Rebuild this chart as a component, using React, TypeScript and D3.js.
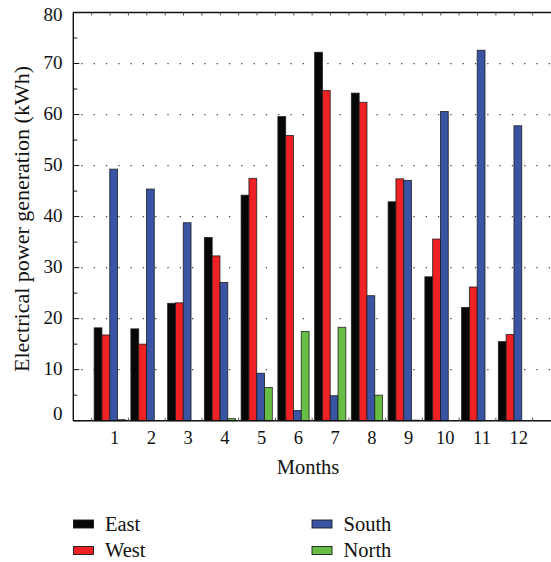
import React from "react";
import * as d3 from "d3";

const months = [1, 2, 3, 4, 5, 6, 7, 8, 9, 10, 11, 12];
const east = [18.2, 18.0, 23.0, 35.9, 44.2, 59.6, 72.2, 64.2, 42.9, 28.2, 22.2, 15.5];
const west = [16.8, 15.0, 23.1, 32.3, 47.5, 55.9, 64.7, 62.4, 47.4, 35.6, 26.2, 16.9];
const south = [49.3, 45.4, 38.8, 27.1, 9.3, 2.0, 4.9, 24.5, 47.1, 60.6, 72.6, 57.8];
const north = [0.2, 0, 0, 0.4, 6.5, 17.5, 18.3, 5.0, 0.1, 0, 0, 0];
const seriesNames = ["East", "West", "South", "North"];
const seriesColors = ["#070707", "#ee2124", "#3a54a4", "#68bd45"];
const yTicks = [0, 10, 20, 30, 40, 50, 60, 70, 80];

export default function App() {
  const W = 551, H = 562;
  const left = 73.3, right = 551, top = 12.5, bottom = 420.7;
  const x = d3.scaleLinear().domain([0, 13]).range([left, right]);
  const y = d3.scaleLinear().domain([0, 80]).range([bottom, top]);
  const data = [east, west, south, north];
  const barW = 7.8;
  const fs = { fontFamily: "Liberation Serif" };
  const minor = d3.range(5, 80, 10);
  const halfTicks = d3.range(0.5, 13, 0.5);

  return (
    <svg width={W} height={H} style={{ position: "absolute", left: 0, top: 0, fontFamily: "Liberation Serif" }}>
      <rect x={0} y={0} width={W} height={H} fill="#fff" />
      {yTicks.slice(1, -1).map((t) => (
        <line key={"g" + t} x1={left + 8} x2={right} y1={y(t)} y2={y(t)}
          stroke="#444" strokeWidth={1.2} strokeDasharray="1.3,11" />
      ))}
      {months.map((m, i) =>
        data.map((s, k) => {
          const v = s[i];
          const x0 = x(m) - 2 * barW + k * barW - 0.3;
          return (
            <rect key={m + "-" + k} x={x0} y={y(v)} width={barW} height={Math.max(0, bottom - y(v))}
              fill={seriesColors[k]} stroke="#1a1a1a" strokeWidth={0.9} strokeOpacity={0.85} />
          );
        })
      )}
      <line x1={left} x2={left} y1={top} y2={bottom} stroke="#111" strokeWidth={1.4} />
      <line x1={left} x2={right} y1={top} y2={top} stroke="#111" strokeWidth={1.4} />
      <line x1={left} x2={right} y1={bottom} y2={bottom} stroke="#111" strokeWidth={1.4} />
      {yTicks.map((t) => (
        <g key={"yt" + t}>
          <line x1={left} x2={left + 6} y1={y(t)} y2={y(t)} stroke="#111" strokeWidth={1} />
          <text x={62.5} y={Math.min(420, Math.max(20.7, y(t) + 5.5))} textAnchor="end" style={fs} fontSize={19} fill="#111">{t}</text>
        </g>
      ))}
      {minor.map((t) => (
        <line key={"mt" + t} x1={left} x2={left + 4} y1={y(t)} y2={y(t)} stroke="#111" strokeWidth={1} />
      ))}
      {halfTicks.map((t) => (
        <line key={"tt" + t} x1={x(t)} x2={x(t)} y1={top} y2={top + 3} stroke="#555" strokeWidth={1} />
      ))}
      {d3.range(0.5, 13, 1).map((t) => (
        <line key={"bt" + t} x1={x(t)} x2={x(t)} y1={bottom} y2={bottom - 3} stroke="#555" strokeWidth={1} />
      ))}
      {months.map((m) => (
        <text key={"xl" + m} x={x(m) + 4.5} y={443.5} textAnchor="middle" style={fs} fontSize={18.5} fill="#111">{m}</text>
      ))}
      <text x={308} y={474} textAnchor="middle" style={fs} fontSize={20.5} fill="#111">Months</text>
      <text transform={`translate(29,219) rotate(-90)`} textAnchor="middle" style={fs} fontSize={20}
        textLength={306} lengthAdjust="spacingAndGlyphs" fill="#111">
        Electrical power generation (kWh)
      </text>
      {seriesNames.map((n, k) => {
        const lx = k < 2 ? 73.5 : 312;
        const ly = k % 2 === 0 ? 520 : 546.5;
        return (
          <g key={"lg" + n}>
            <rect x={lx} y={ly} width={20} height={8} fill={seriesColors[k]} stroke="#1a1a1a" strokeWidth={0.9} />
            <text x={lx + 31.5} y={ly + 10.8} style={fs} fontSize={20.5} fill="#111">{n}</text>
          </g>
        );
      })}
    </svg>
  );
}
